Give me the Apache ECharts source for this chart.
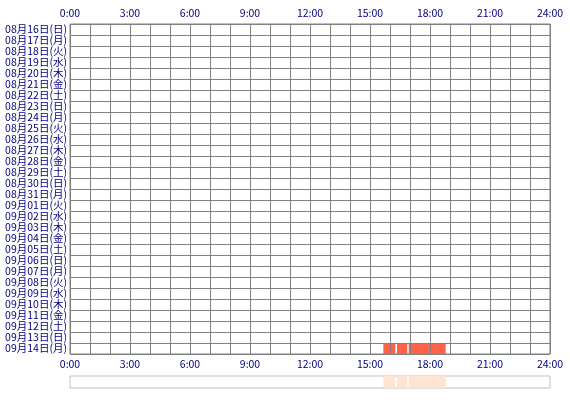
<!DOCTYPE html>
<html>
<head>
<meta charset="utf-8">
<script src="https://cdn.jsdelivr.net/npm/echarts@6/dist/echarts.min.js"></script>
<style>
  html, body { margin: 0; padding: 0; background: #fff; }
  #cc { width: 570px; height: 400px; }
</style>
</head>
<body>
<div id="cc"></div>
<script>
var days = [
  '08月16日(日)', '08月17日(月)', '08月18日(火)', '08月19日(水)', '08月20日(木)',
  '08月21日(金)', '08月22日(土)', '08月23日(日)', '08月24日(月)', '08月25日(火)',
  '08月26日(水)', '08月27日(木)', '08月28日(金)', '08月29日(土)', '08月30日(日)',
  '08月31日(月)', '09月01日(火)', '09月02日(水)', '09月03日(木)', '09月04日(金)',
  '09月05日(土)', '09月06日(日)', '09月07日(月)', '09月08日(火)', '09月09日(水)',
  '09月10日(木)', '09月11日(金)', '09月12日(土)', '09月13日(日)', '09月14日(月)'
];

// sessions: day label, start, end
var sessionDay = ['09月14日(月)', '09月14日(月)', '09月14日(月)'];
var sessionStart = ['15:40', '16:21', '16:56'];
var sessionEnd = ['16:16', '16:52', '18:47'];

function toHour(s) {
  var p = s.split(':');
  return +p[0] + (+p[1]) / 60;
}

var mainData = [];
var overviewData = [];
for (var i = 0; i < sessionDay.length; i++) {
  mainData.push([toHour(sessionStart[i]), toHour(sessionEnd[i]), days.indexOf(sessionDay[i])]);
  overviewData.push([toHour(sessionStart[i]), toHour(sessionEnd[i]), 0]);
}

function hourLabel(v) {
  return v % 3 === 0 ? v + ':00' : '';
}

function rectItem(color) {
  return function (params, api) {
    var a = api.coord([api.value(0), api.value(2)]);
    var b = api.coord([api.value(1), api.value(2)]);
    var h = api.size([0, 1])[1];
    return {
      type: 'rect',
      shape: { x: a[0], y: a[1] - h / 2, width: b[0] - a[0], height: h },
      style: { fill: color }
    };
  };
}

var labelStyle = {
  color: '#000080',
  fontFamily: 'Noto Sans CJK JP',
  fontSize: 10.5
};

var chart = echarts.init(document.getElementById('cc'));

chart.setOption({
  animation: false,
  grid: [
    { left: 70, top: 24, width: 480, height: 330, show: true, borderColor: '#808080', borderWidth: 1 },
    { left: 70, top: 376, width: 480, height: 12, show: true, borderColor: '#c0c0c0', borderWidth: 1 }
  ],
  xAxis: [
    {
      type: 'value', gridIndex: 0, position: 'top', min: 0, max: 24, interval: 1, z: 3,
      axisLine: { show: false }, axisTick: { show: false },
      axisLabel: Object.assign({ formatter: hourLabel, margin: 6, showMinLabel: true, showMaxLabel: true }, labelStyle),
      splitLine: { show: true, lineStyle: { color: '#808080', width: 1 } }
    },
    {
      type: 'value', gridIndex: 0, position: 'bottom', min: 0, max: 24, interval: 1, z: 3,
      axisLine: { show: false }, axisTick: { show: false },
      axisLabel: Object.assign({ formatter: hourLabel, margin: 5, showMinLabel: true, showMaxLabel: true }, labelStyle),
      splitLine: { show: false }
    },
    {
      type: 'value', gridIndex: 1, min: 0, max: 24, show: false
    }
  ],
  yAxis: [
    {
      type: 'category', gridIndex: 0, data: days, inverse: true, z: 3,
      axisLine: { show: false }, axisTick: { show: false },
      axisLabel: Object.assign({ margin: 3, interval: 0 }, labelStyle),
      splitLine: { show: true, interval: 0, lineStyle: { color: '#808080', width: 1 } }
    },
    {
      type: 'category', gridIndex: 1, data: ['all'], show: false
    }
  ],
  series: [
    {
      type: 'custom', xAxisIndex: 0, yAxisIndex: 0, z: 1,
      renderItem: rectItem('#ff6347'),
      encode: { x: [0, 1], y: 2 },
      data: mainData
    },
    {
      type: 'custom', xAxisIndex: 2, yAxisIndex: 1, z: 1,
      renderItem: rectItem('#ffe4d2'),
      encode: { x: [0, 1], y: 2 },
      data: overviewData
    }
  ]
});
</script>
</body>
</html>
